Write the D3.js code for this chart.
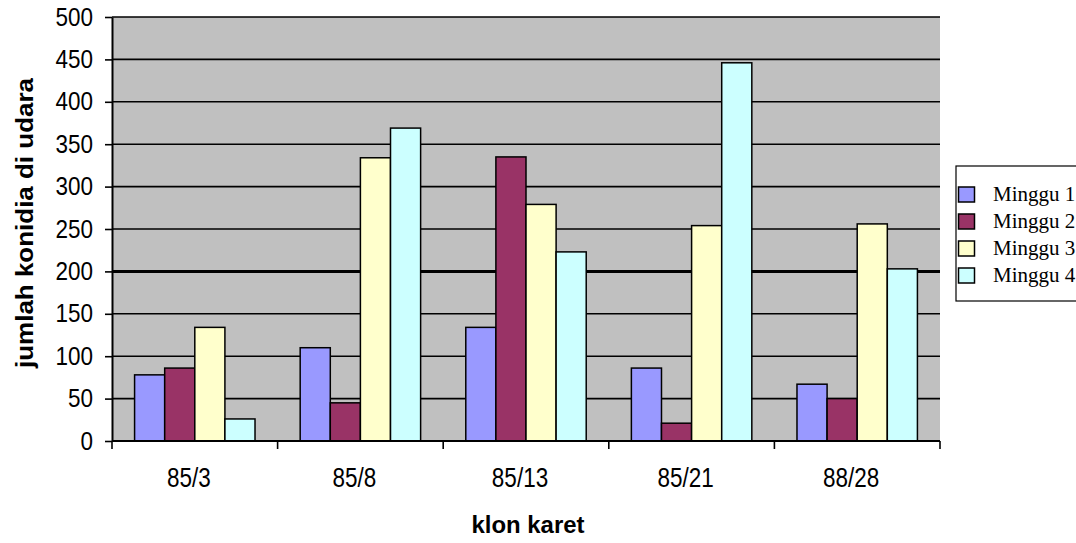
<!DOCTYPE html>
<html>
<head>
<meta charset="utf-8">
<script src="https://cdn.jsdelivr.net/npm/d3@7"></script>
<style>
  html, body { margin: 0; padding: 0; background: #fff; }
  svg { display: block; }
</style>
</head>
<body>
<svg id="chart" width="1076" height="543"></svg>
<script>
// Clone names (x categories)
const categories = ["85/3", "85/8", "85/13", "85/21", "88/28"];
// Week series
const seriesNames = ["Minggu 1", "Minggu 2", "Minggu 3", "Minggu 4"];
const minggu1 = [78, 110, 134, 86, 67];
const minggu2 = [86, 45, 335, 21, 50];
const minggu3 = [134, 334, 279, 254, 256];
const minggu4 = [26, 369, 223, 446, 203];
const seriesValues = [minggu1, minggu2, minggu3, minggu4];
const seriesColors = ["#9999ff", "#993366", "#ffffcc", "#ccffff"];
const yTicks = [0, 50, 100, 150, 200, 250, 300, 350, 400, 450, 500];
const yTitle = "jumlah konidia di udara";
const xTitle = "klon karet";

const svg = d3.select("#chart");
const plot = { left: 112, right: 940, top: 17, bottom: 441 };

const x0 = d3.scaleBand().domain(categories).range([plot.left, plot.right]).padding(0);
// gap between clusters is 1.5 bar widths
const barW = x0.bandwidth() / (seriesNames.length + 1.5);
const x1 = d3.scaleBand().domain(seriesNames)
  .range([0.75 * barW, 0.75 * barW + seriesNames.length * barW]).padding(0);
const y = d3.scaleLinear().domain([0, 500]).range([plot.bottom, plot.top]);

// plot background
svg.append("rect")
  .attr("x", plot.left).attr("y", plot.top)
  .attr("width", plot.right - plot.left).attr("height", plot.bottom - plot.top)
  .attr("fill", "#c0c0c0");

// gridlines
svg.append("g").selectAll("line").data(yTicks.filter(d => d > 0)).join("line")
  .attr("x1", plot.left).attr("x2", plot.right)
  .attr("y1", d => y(d)).attr("y2", d => y(d))
  .attr("stroke", "#000")
  .attr("stroke-width", d => d === 200 ? 3 : 1.6);

// bars
const groups = svg.append("g").selectAll("g").data(categories).join("g")
  .attr("transform", d => `translate(${x0(d)},0)`);
groups.selectAll("rect")
  .data((c, ci) => seriesNames.map((s, si) => ({ s, si, v: seriesValues[si][ci] })))
  .join("rect")
  .attr("x", d => x1(d.s))
  .attr("y", d => y(d.v))
  .attr("width", x1.bandwidth())
  .attr("height", d => y(0) - y(d.v))
  .attr("fill", d => seriesColors[d.si])
  .attr("stroke", "#000")
  .attr("stroke-width", 1.5);

// y axis
const yAxis = d3.axisLeft(y).tickValues(yTicks).tickSize(7).tickSizeOuter(0).tickFormat(d3.format("d"));
const gy = svg.append("g").attr("transform", `translate(${plot.left},0)`).call(yAxis);
gy.select(".domain").attr("stroke", "#000").attr("stroke-width", 2);
gy.selectAll(".tick line").attr("stroke", "#000").attr("stroke-width", 1.6);
gy.selectAll(".tick text")
  .attr("x", 0).attr("dy", null).attr("y", 0)
  .attr("transform", "translate(-19,8) scale(1,1.12)")
  .attr("fill", "#000")
  .style("font-family", "'Liberation Sans', Arial, sans-serif")
  .style("font-size", "22.5px");

// x axis with ticks at cluster boundaries
const gx = svg.append("g").attr("transform", `translate(0,${plot.bottom})`);
gx.append("line").attr("x1", plot.left).attr("x2", plot.right)
  .attr("stroke", "#000").attr("stroke-width", 2);
const boundaries = categories.map(c => x0(c)).concat([plot.right]);
gx.selectAll("line.tk").data(boundaries).join("line").attr("class", "tk")
  .attr("x1", d => d).attr("x2", d => d).attr("y1", 0).attr("y2", 8)
  .attr("stroke", "#000").attr("stroke-width", 1.6);
gx.selectAll("text").data(categories).join("text")
  .attr("transform", d => `translate(${x0(d) + x0.bandwidth() / 2 - 6},46) scale(1,1.2)`)
  .attr("text-anchor", "middle")
  .attr("fill", "#000")
  .style("font-family", "'Liberation Sans', Arial, sans-serif")
  .style("font-size", "22.5px")
  .text(d => d);

// axis titles
svg.append("text")
  .attr("transform", "translate(33,223) rotate(-90)")
  .attr("text-anchor", "middle")
  .attr("textLength", 290).attr("lengthAdjust", "spacingAndGlyphs")
  .style("font-family", "'Liberation Sans', Arial, sans-serif")
  .style("font-size", "23px").style("font-weight", "bold")
  .text(yTitle);
svg.append("text")
  .attr("x", 528).attr("y", 533)
  .attr("text-anchor", "middle")
  .attr("textLength", 113).attr("lengthAdjust", "spacingAndGlyphs")
  .style("font-family", "'Liberation Sans', Arial, sans-serif")
  .style("font-size", "23px").style("font-weight", "bold")
  .text(xTitle);

// legend
const lg = svg.append("g").attr("transform", "translate(956,166)");
lg.append("rect").attr("x", 0).attr("y", 0).attr("width", 140).attr("height", 135)
  .attr("fill", "#fff").attr("stroke", "#000").attr("stroke-width", 1.2);
const items = lg.selectAll("g").data(seriesNames).join("g")
  .attr("transform", (d, i) => `translate(0,${21 + i * 27})`);
items.append("rect").attr("x", 2.5).attr("y", 0).attr("width", 16).attr("height", 15)
  .attr("fill", (d, i) => seriesColors[i]).attr("stroke", "#000").attr("stroke-width", 1.5);
items.append("text").attr("x", 37).attr("y", 14)
  .attr("fill", "#000")
  .style("font-family", "'Liberation Serif', 'Times New Roman', serif")
  .style("font-size", "21px")
  .text(d => d);
</script>
</body>
</html>
